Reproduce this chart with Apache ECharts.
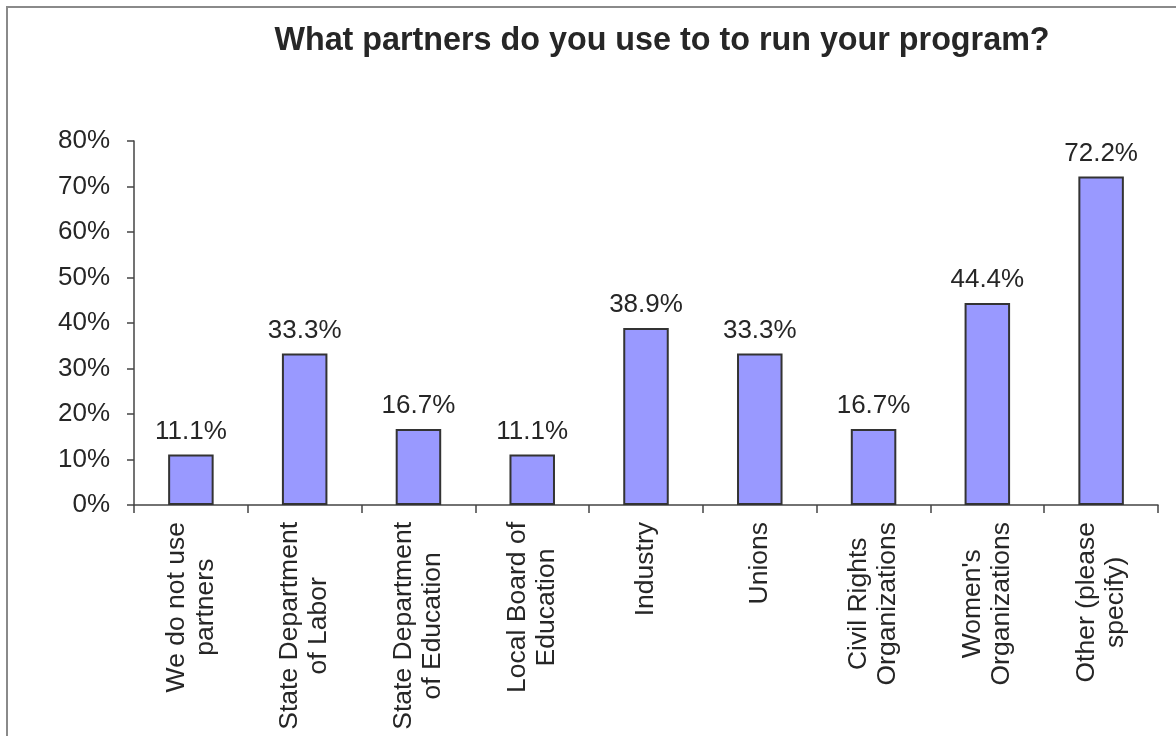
<!DOCTYPE html>
<html>
<head>
<meta charset="utf-8">
<style>
  html, body { margin: 0; padding: 0; background: #ffffff; }
  #chart { width: 1176px; height: 736px; }
</style>
<script src="https://cdn.jsdelivr.net/npm/echarts@6/dist/echarts.min.js"></script>
</head>
<body>
<div id="chart"></div>
<script>
// Survey responses: share of programs using each kind of partner
const chartTitle = 'What partners do you use to to run your program?';
const categories = [
  ['We do not use', 'partners'],
  ['State Department', 'of Labor'],
  ['State Department', 'of Education'],
  ['Local Board of', 'Education'],
  ['Industry'],
  ['Unions'],
  ['Civil Rights', 'Organizations'],
  ["Women's", 'Organizations'],
  ['Other (please', 'specify)']
];
const percentValues = [11.1, 33.3, 16.7, 11.1, 38.9, 33.3, 16.7, 44.4, 72.2];
const yTicks = [0, 10, 20, 30, 40, 50, 60, 70, 80];

const FONT = '"Liberation Sans", Arial, sans-serif';
const TEXT = '#262626';

const chart = echarts.init(document.getElementById('chart'), null, { renderer: 'canvas' });

chart.setOption({
  backgroundColor: '#ffffff',
  animation: false,
  title: {
    text: chartTitle,
    left: 657,
    top: 20,
    textAlign: 'center',
    textStyle: { fontFamily: FONT, fontSize: 32.3, fontWeight: 'bold', color: TEXT }
  },
  graphic: [{
    type: 'rect',
    shape: { x: 7, y: 7, width: 1300, height: 900 },
    style: { fill: null, stroke: '#8a8a8a', lineWidth: 2 },
    silent: true,
    z: -1
  }],
  grid: { left: 134, right: 18, top: 141, bottom: 231, containLabel: false },
  xAxis: {
    type: 'category',
    data: categories.map(c => c.join('\n')),
    axisLine: { lineStyle: { color: '#444', width: 1.5 } },
    axisTick: { show: true, length: 8, alignWithLabel: false, lineStyle: { color: '#444', width: 1.5 } },
    axisLabel: {
      interval: 0,
      rotate: 90,
      margin: 17,
      fontFamily: FONT,
      fontSize: 26.5,
      color: TEXT,
      formatter: function (v) {
        return v.split('\n').map(s => '{c|' + s + '}').join('\n');
      },
      rich: {
        c: { align: 'center', fontFamily: FONT, fontSize: 26.5, lineHeight: 29, color: TEXT }
      }
    }
  },
  yAxis: {
    type: 'value',
    min: yTicks[0],
    max: yTicks[yTicks.length - 1],
    interval: 10,
    splitLine: { show: false },
    axisLine: { show: true, lineStyle: { color: '#444', width: 1.5 } },
    axisTick: { show: true, length: 7, lineStyle: { color: '#444', width: 1.5 } },
    axisLabel: {
      margin: 24,
      padding: [5, 0, 0, 0],
      fontFamily: FONT,
      fontSize: 26,
      color: TEXT,
      formatter: v => v + '%'
    }
  },
  series: [{
    type: 'bar',
    data: percentValues,
    barWidth: '40%',
    itemStyle: { color: '#9999FF', borderColor: '#333333', borderWidth: 2 },
    label: {
      show: true,
      position: 'top',
      distance: 10,
      fontFamily: FONT,
      fontSize: 26,
      color: TEXT,
      formatter: p => p.value.toFixed(1) + '%'
    }
  }]
});
</script>
</body>
</html>
